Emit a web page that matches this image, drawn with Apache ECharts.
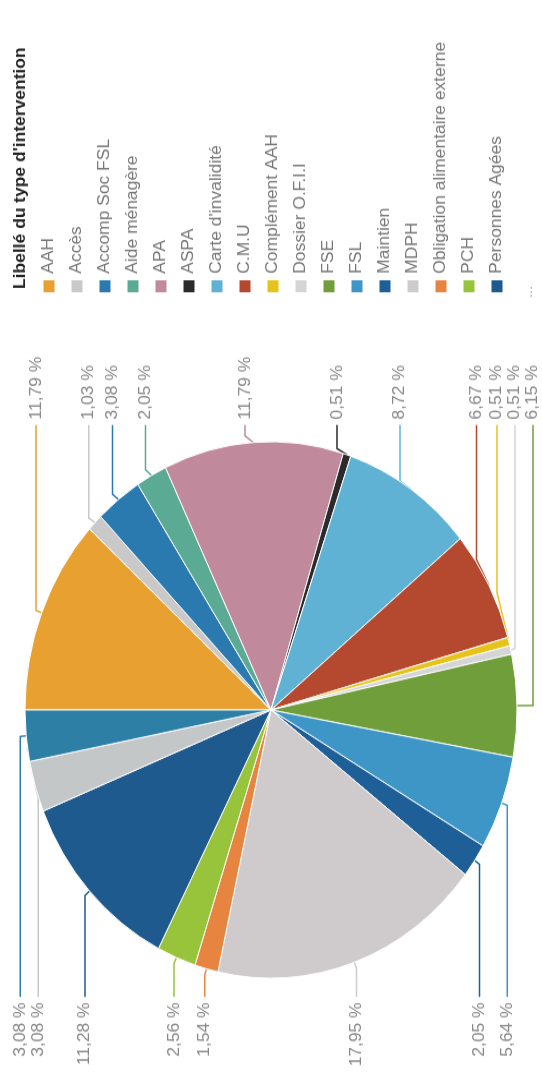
<!DOCTYPE html>
<html>
<head>
<meta charset="utf-8">
<script src="https://cdn.jsdelivr.net/npm/echarts@6/dist/echarts.min.js"></script>
<style>
  html, body { margin: 0; padding: 0; background: #fff; width: 542px; height: 1072px; overflow: hidden; }
  /* the reference is a scan turned on its side and a bit stretched */
  #chart {
    position: absolute; left: 0; top: 0;
    width: 983px; height: 542px;
    transform-origin: 0 0;
    transform: translateY(1072px) rotate(-90deg) scaleX(1.0905);
  }
</style>
</head>
<body>
<div id="chart"></div>
<script>
// categories (slice order)
var categories = ['AAH', 'Accès', 'Accomp Soc FSL', 'Aide ménagère', 'APA', 'ASPA',
  "Carte d'invalidité", 'C.M.U', 'Complément AAH', 'Dossier O.F.I.I', 'FSE', 'FSL',
  'Maintien', 'MDPH', 'Obligation alimentaire externe', 'PCH', 'Personnes Agées',
  'RSA', 'Secours'];
// number of interventions per type (195 in total)
var counts = [23, 2, 6, 4, 23, 1, 17, 13, 1, 1, 12, 11, 4, 35, 3, 5, 22, 6, 6];
var colors = ['#e8a030', '#c9c9c9', '#2a7ab0', '#5aaa94', '#c08a9c', '#2b2b2b',
  '#5fb2d3', '#b5492f', '#e6c31a', '#d5d5d5', '#6f9e3a', '#3d96c6',
  '#1d5f96', '#cfcbcd', '#e7843f', '#97c43a', '#1f5a8e', '#c4c7c7', '#2e7fa6'];
// legend only shows the first 17 entries, then "..."
var legendNames = categories.slice(0, 17);

var total = counts.reduce(function (a, b) { return a + b; }, 0);
var font = 'Liberation Sans, Arial, sans-serif';

var chart = echarts.init(document.getElementById('chart'));

var seriesData = categories.map(function (name, i) {
  var item = { name: name, value: counts[i] };
  // slices on the left half get a longer horizontal leader
  if (i >= 11) item.labelLine = { length2: 20 };
  return item;
});

chart.setOption({
  animation: false,
  color: colors,
  title: {
    text: "Libellé du type d'intervention",
    left: 713,
    top: 8,
    textStyle: { fontSize: 16, fontWeight: 'bold', color: '#222', fontFamily: font }
  },
  legend: {
    orient: 'vertical',
    left: 713,
    top: 41,
    height: 500,
    padding: 0,
    icon: 'rect',
    itemWidth: 13,
    itemHeight: 13,
    itemGap: 12,
    data: legendNames,
    textStyle: { fontSize: 16, color: '#777', fontFamily: font }
  },
  graphic: [{
    type: 'text',
    left: 710,
    top: 522,
    style: { text: '...', fontSize: 13, fill: '#999' }
  }],
  series: [{
    type: 'pie',
    center: [332, 271],
    radius: 246,
    startAngle: 90,
    clockwise: true,
    itemStyle: { borderColor: '#fff', borderWidth: 1 },
    label: {
      show: true,
      alignTo: 'labelLine',
      bleedMargin: 0,
      fontSize: 16,
      color: '#888',
      fontFamily: font,
      formatter: function (p) {
        return (p.value / total * 100).toFixed(2).replace('.', ',') + ' %';
      }
    },
    labelLine: { show: true, length: 6, length2: 10, lineStyle: { width: 1.5 } },
    data: seriesData
  }]
});
</script>
</body>
</html>
